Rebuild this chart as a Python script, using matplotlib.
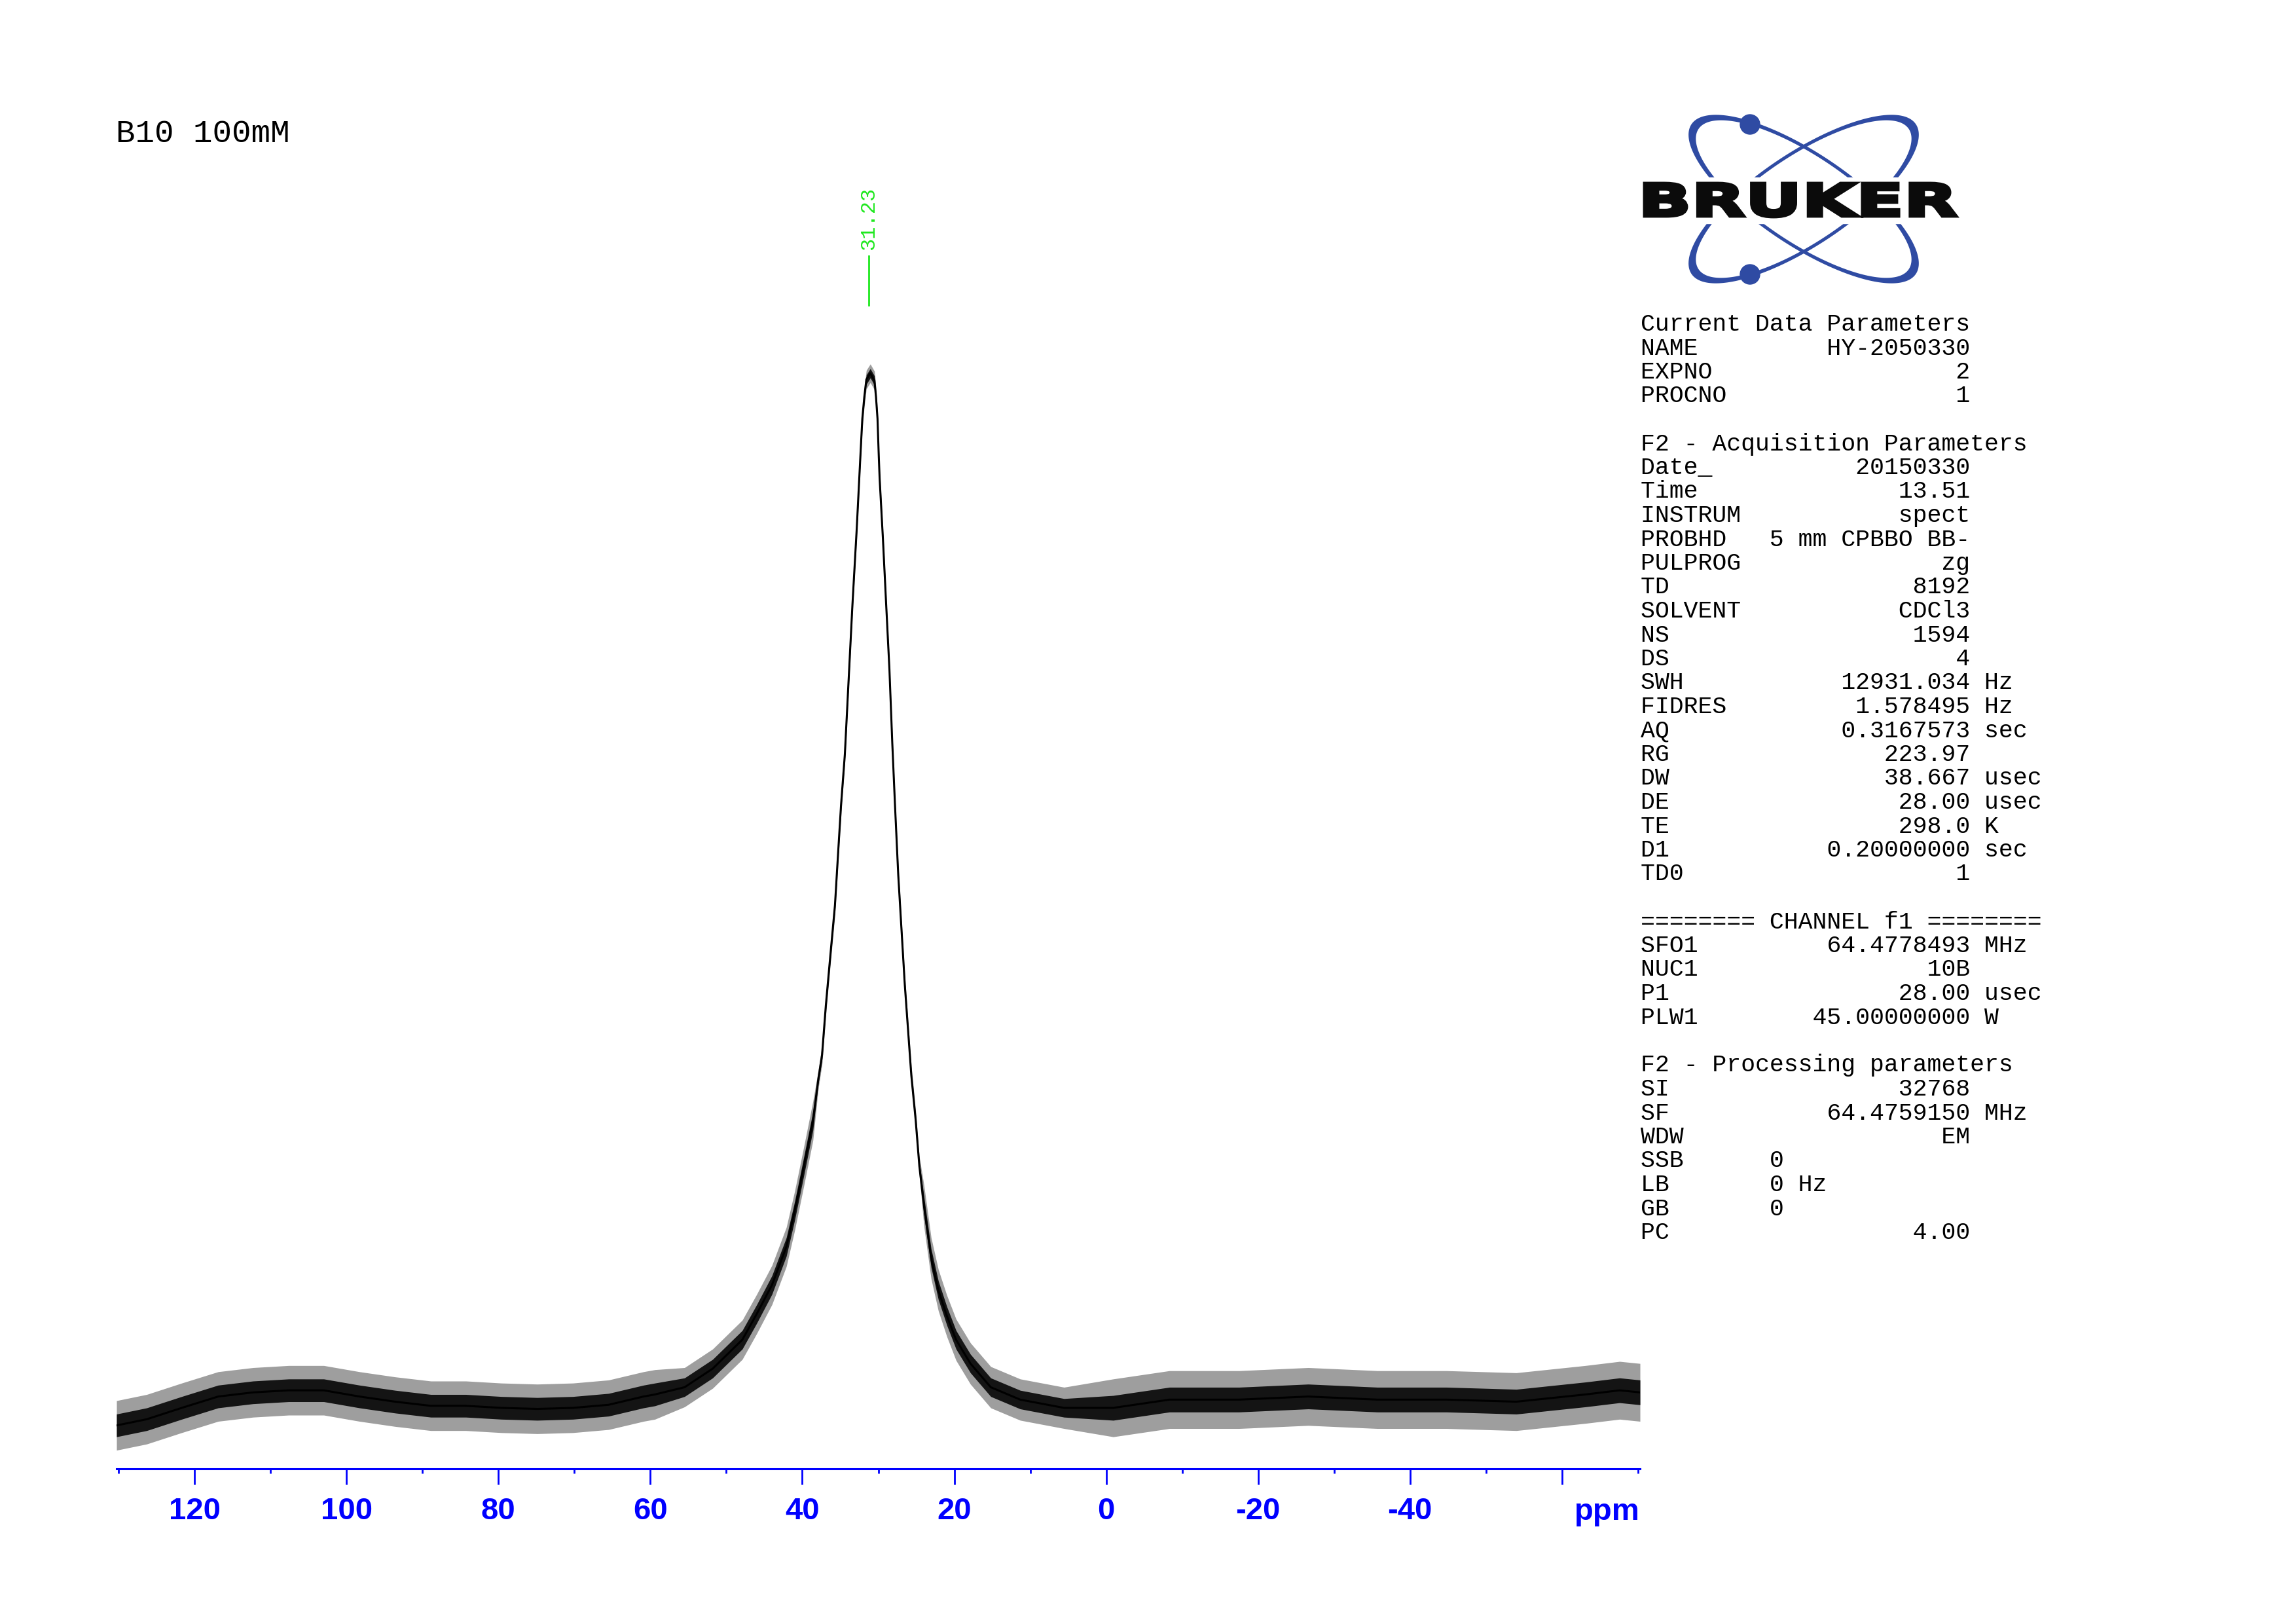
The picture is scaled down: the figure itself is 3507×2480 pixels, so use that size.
import numpy as np
import matplotlib
matplotlib.use('Agg')
import matplotlib.pyplot as plt
from matplotlib.path import Path
from matplotlib.patches import PathPatch, Circle, Rectangle
from matplotlib.textpath import TextPath
from matplotlib.font_manager import FontProperties
from matplotlib.transforms import Affine2D

# spectrum trace (ppm, relative intensity)
ppm = [130.28, 126.3, 121.7, 116.9, 112.3, 107.6, 103.0, 98.3, 93.6, 88.9,
       84.3, 79.6, 74.9, 70.2, 65.5, 60.9, 59.4, 55.5, 51.8, 47.9,
       46.0, 44.0, 42.1, 41.0, 39.8, 38.6, 37.9, 37.4, 36.9, 36.3,
       35.7, 35.3, 34.9, 34.4, 34.0, 33.4, 32.84, 32.36, 32.1, 31.84,
       31.57, 31.05, 30.5, 30.3, 30.1, 29.93, 29.82, 29.39, 28.96, 28.53,
       28.15, 27.8, 27.37, 26.94, 26.51, 26.08, 25.65, 25.08, 24.59, 23.99,
       23.04, 22.09, 20.97, 19.76, 17.87, 15.19, 11.31, 5.54, -0.93, -8.34,
       -17.5, -26.6, -35.7, -44.8, -54.0, -63.1, -67.6, -70.28]
intensity = [-1.9, -1.3, -0.2, 0.9, 1.3, 1.5, 1.5, 0.9, 0.4, 0.0,
             0.0, -0.2, -0.3, -0.2, 0.1, 0.9, 1.1, 1.8, 3.6, 6.4,
             8.9, 11.7, 15.4, 18.9, 23.2, 27.6, 31.6, 34.0, 38.8, 43.7,
             48.5, 53.4, 58.2, 63.1, 68.9, 77.6, 84.9, 91.9, 95.6, 97.7,
             99.4, 100.0, 99.3, 97.7, 95.6, 91.9, 89.8, 84.0, 77.6, 71.3,
             64.1, 58.2, 51.4, 46.1, 40.8, 36.4, 32.0, 27.7, 23.2, 19.4,
             14.3, 11.2, 8.7, 6.4, 4.1, 1.8, 0.6, -0.2, -0.2, 0.6,
             0.6, 0.9, 0.6, 0.6, 0.4, 1.1, 1.5, 1.3]
# noise band half widths (dense core / spikes)
noise_core = [1.1] * 17 + [0.9] * 9 + [0.45] * 33 + [0.9] * 9 + [1.2] * 10
noise_spike = [2.4] * 17 + [1.9] * 9 + [0.9] * 33 + [2.0] * 9 + [2.8] * 10

peak_pos = [31.23]
peak_text = ['31.23']

major_ticks = [120, 100, 80, 60, 40, 20, 0, -20, -40, -60]
major_labels = ['120', '100', '80', '60', '40', '20', '0', '-20', '-40', '']
minor_ticks = [130, 110, 90, 70, 50, 30, 10, -10, -30, -50, -70]

title = 'B10 100mM'

# parameter block
params = [
    ('Current Data Parameters', None, None),
    ('NAME', 'HY-2050330', None),
    ('EXPNO', '2', None),
    ('PROCNO', '1', None),
    ('', None, None),
    ('F2 - Acquisition Parameters', None, None),
    ('Date_', '20150330', None),
    ('Time', '13.51', None),
    ('INSTRUM', 'spect', None),
    ('PROBHD', '5 mm CPBBO BB-', None),
    ('PULPROG', 'zg', None),
    ('TD', '8192', None),
    ('SOLVENT', 'CDCl3', None),
    ('NS', '1594', None),
    ('DS', '4', None),
    ('SWH', '12931.034', 'Hz'),
    ('FIDRES', '1.578495', 'Hz'),
    ('AQ', '0.3167573', 'sec'),
    ('RG', '223.97', None),
    ('DW', '38.667', 'usec'),
    ('DE', '28.00', 'usec'),
    ('TE', '298.0', 'K'),
    ('D1', '0.20000000', 'sec'),
    ('TD0', '1', None),
    ('', None, None),
    ('======== CHANNEL f1 ========', None, None),
    ('SFO1', '64.4778493', 'MHz'),
    ('NUC1', '10B', None),
    ('P1', '28.00', 'usec'),
    ('PLW1', '45.00000000', 'W'),
    ('', None, None),
    ('F2 - Processing parameters', None, None),
    ('SI', '32768', None),
    ('SF', '64.4759150', 'MHz'),
    ('WDW', 'EM', None),
    ('SSB      0', None, None),
    ('LB       0 Hz', None, None),
    ('GB       0', None, None),
    ('PC', '4.00', None),
]

W, H = 3507, 2480
BLUE = '#0000ff'
GREEN = '#1ee81e'
LOGO_BLUE = '#2f4ba3'

fig = plt.figure(figsize=(W / 100, H / 100), dpi=100)
fig.patch.set_facecolor('white')

ax = fig.add_axes([178 / W, 1 - 2243 / H, (2505 - 178) / W, (2243 - 250) / H])
ax.set_xlim(130.28, -70.28)
ax.set_ylim(-6.1, 120.3)

x = np.array(ppm)
y = np.array(intensity)
nc = np.array(noise_core)
ns = np.array(noise_spike)
ax.fill_between(x, y - ns, y + ns, color='0.62', lw=0)
ax.fill_between(x, y - nc, y + nc, color='0.08', lw=0)
ax.plot(x, y, color='black', lw=2.2)

# peak pick marker
for p, t in zip(peak_pos, peak_text):
    ax.plot([p, p], [106.6, 111.35], color=GREEN, lw=2.0, clip_on=False)
    ax.text(p, 111.9, t, rotation=90, ha='center', va='bottom', color=GREEN,
            family='Liberation Mono', fontsize=23, clip_on=False)

for side in ['left', 'right', 'top']:
    ax.spines[side].set_visible(False)
ax.spines['bottom'].set_color(BLUE)
ax.spines['bottom'].set_linewidth(2.2)
ax.set_yticks([])
ax.set_xticks(major_ticks)
ax.set_xticklabels(major_labels)
ax.set_xticks(minor_ticks, minor=True)
ax.tick_params(axis='x', which='major', direction='out', length=17.3, width=2,
               color=BLUE, labelcolor=BLUE, labelsize=34, pad=14)
ax.tick_params(axis='x', which='minor', direction='out', length=5.2, width=2, color=BLUE)
for lab in ax.get_xticklabels():
    lab.set_family('Liberation Sans')
    lab.set_fontweight('bold')
ax.patch.set_alpha(0)

fig.text(2505 / W, 1 - 2321 / H, 'ppm', ha='right', va='baseline', color=BLUE,
         family='Liberation Sans', fontweight='bold', fontsize=34)

fig.text(177 / W, 1 - 217 / H, title, ha='left', va='baseline', color='black',
         family='Liberation Mono', fontsize=35.5)

# parameter listing
for i, (name, val, unit) in enumerate(params):
    line = name
    if val is not None:
        line = name + val.rjust(23 - len(name))
    if unit is not None:
        line = line + ' ' + unit
    fig.text(2506 / W, 1 - (505 + 36.5 * i) / H, line, ha='left', va='baseline',
             color='black', family='Liberation Mono', fontsize=26.3)

# Bruker logo, drawn in pixel coordinates
lax = fig.add_axes([0, 0, 1, 1])
lax.set_xlim(0, W)
lax.set_ylim(H, 0)
lax.axis('off')


def orbit(cx, cy, ao, bo, ai, bi, ang):
    t = np.linspace(0, 2 * np.pi, 240)
    c, s = np.cos(ang), np.sin(ang)

    def loop(a, b):
        px = a * np.cos(t)
        py = b * np.sin(t)
        return np.column_stack([cx + px * c - py * s, cy + px * s + py * c])
    outer = Path(loop(ao, bo), closed=True)
    inner = Path(loop(ai, bi)[::-1], closed=True)
    return Path.make_compound_path(outer, inner)


th = np.deg2rad(33.7)
for ang in [th, -th]:
    lax.add_patch(PathPatch(orbit(2755, 304, 206, 71, 193, 66, ang),
                            facecolor=LOGO_BLUE, edgecolor='none'))
lax.add_patch(Circle((2673, 190), 15, color=LOGO_BLUE))
lax.add_patch(Circle((2673, 419), 15, color=LOGO_BLUE))
lax.add_patch(Rectangle((2495, 271), 510, 70, color='white'))

tp = TextPath((0, 0), 'BRUKER', size=100,
              prop=FontProperties(family='DejaVu Sans', weight='bold'))
ext = tp.get_extents()
tr = Affine2D().translate(-ext.x0, -ext.y0).scale(476 / ext.width, -51 / ext.height).translate(2512, 331)
lax.add_patch(PathPatch(tr.transform_path(tp), facecolor='#0b0b0b', edgecolor='#0b0b0b', lw=3.5))

fig.savefig('out.png', dpi=100, facecolor='white')
